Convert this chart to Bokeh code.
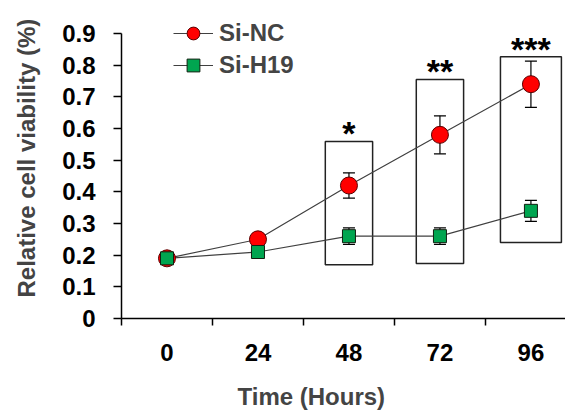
from bokeh.plotting import figure
from bokeh.models import (Range1d, FixedTicker, Whisker, TeeHead, ColumnDataSource,
                          Legend, LegendItem, Title)
from bokeh.core.properties import value
from bokeh.embed import file_html
from bokeh.resources import INLINE

# ---- data ----
time_labels = ["0", "24", "48", "72", "96"]
si_nc = [0.19, 0.25, 0.42, 0.58, 0.74]
si_nc_err = [0.0, 0.0, 0.04, 0.06, 0.073]
si_h19 = [0.19, 0.21, 0.26, 0.26, 0.34]
si_h19_err = [0.0, 0.0, 0.026, 0.026, 0.033]
y_ticks = [0, 0.1, 0.2, 0.3, 0.4, 0.5, 0.6, 0.7, 0.8, 0.9]
y_tick_labels = ["0", "0.1", "0.2", "0.3", "0.4", "0.5", "0.6", "0.7", "0.8", "0.9"]
# significance boxes (category index, bottom, top, width in category units)
box_idx = [2, 3, 4]
box_bottom = [0.17, 0.174, 0.24]
box_top = [0.559, 0.755, 0.827]
box_width = [0.52, 0.52, 0.67]
stars = ["*", "**", "***"]

FONT = "Liberation Sans"
FS = "24px"

xs = list(range(len(time_labels)))

p = figure(width=565, height=410, x_range=Range1d(-0.5, 4.38), y_range=Range1d(0, 0.979),
           output_backend="svg", toolbar_location=None,
           min_border_left=121, min_border_top=8, min_border_right=0, min_border_bottom=92)
p.grid.visible = False
p.outline_line_color = None
p.background_fill_color = "white"
p.border_fill_color = "white"

# axes
for ax in (p.xaxis, p.yaxis):
    ax.axis_line_color = "black"
    ax.axis_line_width = 1.5
    ax.major_label_text_font = FONT
    ax.major_label_text_font_size = FS
    ax.major_label_text_font_style = "bold"
    ax.major_label_text_color = "black"

p.xaxis.ticker = FixedTicker(ticks=xs, minor_ticks=[-0.5, 0.5, 1.5, 2.5, 3.5])
p.xaxis.major_label_overrides = {i: t for i, t in enumerate(time_labels)}
p.xaxis.major_tick_line_color = None
p.xaxis.major_tick_out = 7
p.xaxis.minor_tick_line_color = "black"
p.xaxis.minor_tick_line_width = 1.5
p.xaxis.minor_tick_out = 7
p.xaxis.minor_tick_in = 0
p.xaxis.major_label_standoff = 18

p.yaxis.ticker = FixedTicker(ticks=y_ticks)
p.yaxis.bounds = (0, 0.9)
p.yaxis.major_label_overrides = {v: t for v, t in zip(y_ticks, y_tick_labels)}
p.yaxis.major_tick_line_color = "black"
p.yaxis.major_tick_line_width = 1.5
p.yaxis.major_tick_out = 8
p.yaxis.major_tick_in = 0
p.yaxis.minor_tick_line_color = None
p.yaxis.major_label_standoff = 18


def spacer(size):
    # blank title used only to reserve space between an axis and its title
    return Title(text=" ", text_font_size="1px", standoff=size)


p.add_layout(spacer(14), "below")
xt = Title(text="Time (Hours)", align="left", offset=116, text_font=FONT,
           text_font_size=FS, text_font_style="bold", standoff=0)
p.add_layout(xt, "below")

p.add_layout(spacer(17), "left")
yt = Title(text="Relative cell viability (%)", align="left", offset=21, text_font=FONT,
           text_font_size=FS, text_font_style="bold", standoff=0)
p.add_layout(yt, "left")

# boxes
bsrc = ColumnDataSource(dict(x=box_idx, b=box_bottom, t=box_top, w=box_width, s=stars))
p.quad(left=[x - w / 2 for x, w in zip(box_idx, box_width)],
       right=[x + w / 2 for x, w in zip(box_idx, box_width)],
       bottom=box_bottom, top=box_top, fill_color=None, line_color="#222222", line_width=1.5)
p.text(x="x", y="t", text="s", source=bsrc, text_align="center", text_baseline="bottom",
       text_font=value(FONT), text_font_size="34px", text_font_style="bold",
       text_color="black", y_offset=11)

# lines
src_nc = ColumnDataSource(dict(x=xs, y=si_nc,
                               lo=[v - e for v, e in zip(si_nc, si_nc_err)],
                               hi=[v + e for v, e in zip(si_nc, si_nc_err)]))
src_h = ColumnDataSource(dict(x=xs, y=si_h19,
                              lo=[v - e for v, e in zip(si_h19, si_h19_err)],
                              hi=[v + e for v, e in zip(si_h19, si_h19_err)]))

l_nc = p.line("x", "y", source=src_nc, line_color="#404040", line_width=1.2)
l_h = p.line("x", "y", source=src_h, line_color="#404040", line_width=1.2)

for src in (src_nc, src_h):
    w = Whisker(source=src, base="x", lower="lo", upper="hi", line_color="black", line_width=1.2,
                upper_head=TeeHead(size=12, line_color="black", line_width=1.2),
                lower_head=TeeHead(size=12, line_color="black", line_width=1.2))
    p.add_layout(w)

m_nc = p.scatter("x", "y", source=src_nc, marker="circle", size=17,
                 fill_color="#FF0000", line_color="#5a0000", line_width=1)
m_h = p.scatter("x", "y", source=src_h, marker="square", size=13,
                fill_color="#00A550", line_color="#102010", line_width=1)

legend = Legend(items=[LegendItem(label="Si-NC", renderers=[l_nc, m_nc]),
                       LegendItem(label="Si-H19", renderers=[l_h, m_h])],
                location=(52, 237), orientation="vertical",
                glyph_width=40, glyph_height=32, label_height=32, spacing=0,
                padding=0, margin=0, label_standoff=6,
                label_text_font=FONT, label_text_font_size=FS, label_text_font_style="bold",
                border_line_color=None, background_fill_alpha=0)
p.add_layout(legend)

open("out.html", "w").write(file_html(p, INLINE))
